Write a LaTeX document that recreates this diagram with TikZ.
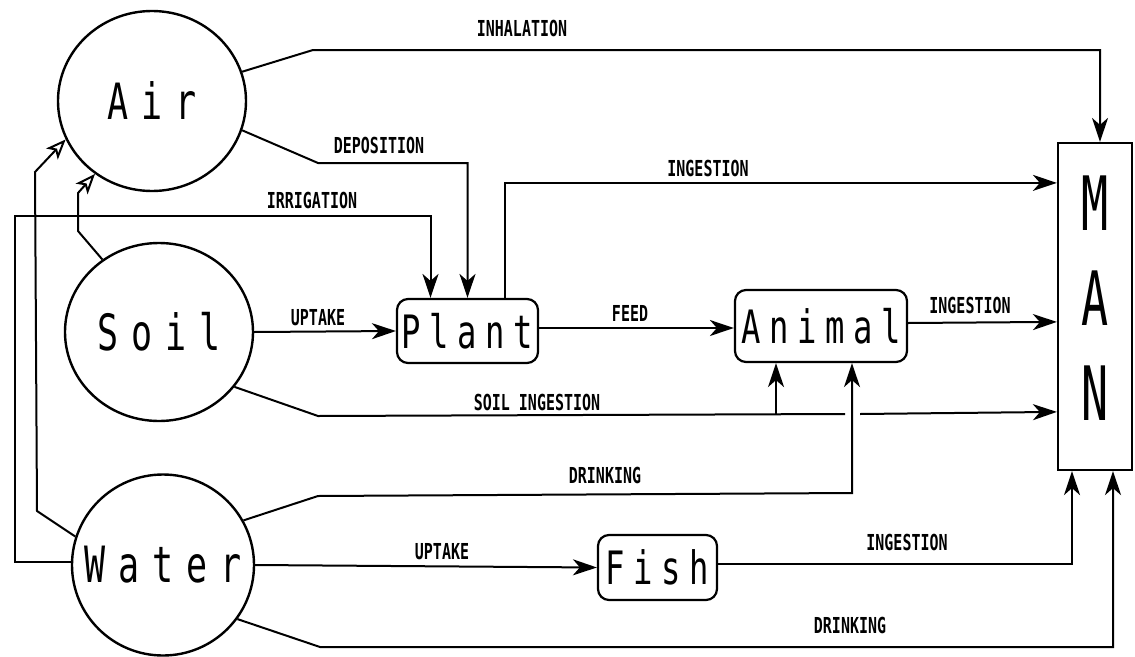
\documentclass[tikz,border=0pt]{standalone}
\usepackage{fontspec}
\usepackage{graphicx}
\usetikzlibrary{arrows.meta,shapes.geometric,calc}
\newfontfamily\monof{DejaVu Sans Mono}
\newfontfamily\circf[LetterSpace=37]{DejaVu Sans Mono}
\newfontfamily\boxf[LetterSpace=27]{DejaVu Sans Mono}
\newcommand\lbl[1]{\scalebox{0.68}[1]{\monof\bfseries\fontsize{22}{22}\selectfont #1}}
\newcommand\ctxt[1]{\scalebox{0.7}[1]{\circf\fontsize{50}{50}\selectfont #1}}
\newcommand\btxt[1]{\scalebox{0.7}[1]{\boxf\fontsize{46}{46}\selectfont #1}}
\begin{document}
\begin{tikzpicture}[x=1pt,y=-1pt,
  ln/.style={line width=2pt, line join=miter},
  arr/.style={ln,-{Stealth[length=24pt,width=16pt,inset=7pt]}},
  oarr/.style={ln,-{Stealth[open,length=20pt,width=16pt,inset=5pt]}},
  circ/.style={draw, ellipse, line width=2.4pt, inner sep=0pt},
  bigtxt/.style={inner sep=0pt},
  rbox/.style={draw, rectangle, rounded corners=11pt, line width=2.2pt, inner sep=0pt},
  manbox/.style={draw, rectangle, line width=2.2pt, inner sep=0pt},
  lab/.style={inner sep=0pt}]
\useasboundingbox[fill=white] (0,0) rectangle (1135,656);

% main nodes
\node[circ, minimum width=188pt, minimum height=180pt, label={[bigtxt]center:\ctxt{Air}}] (air) at (152,101) {};
\node[circ, minimum width=188pt, minimum height=178pt, label={[bigtxt]center:\ctxt{Soil}}] (soil) at (159,332) {};
\node[circ, minimum width=182pt, minimum height=181pt, label={[bigtxt]center:\ctxt{Water}}] (water) at (163,565) {};
\node[rbox, minimum width=141pt, minimum height=64pt] (plant) at (467.5,331) {\btxt{Plant}};
\node[rbox, minimum width=172pt, minimum height=72pt] (animal) at (821,326) {\btxt{Animal}};
\node[rbox, minimum width=119pt, minimum height=65pt] (fish) at (657.5,567.5) {\btxt{Fish}};
\node[manbox, minimum width=74pt, minimum height=327pt] (man) at (1095,306.5)
  {\scalebox{0.6}[1]{\monof\fontsize{75}{95}\selectfont\begin{tabular}{@{}c@{}}M\\A\\N\end{tabular}}};

% helper coordinates
\coordinate (gapL) at (845,414);
\coordinate (gapR) at (860,414);
\coordinate (sj) at (776,414);
\coordinate (dk) at (852,493);

% connectors
\draw[arr] (air.18) -- (313,50) -| ([xshift=5pt]man.north);
\draw[arr] (air.-18) -- (318,163) -| (plant.north);
\draw[arr] (water.178) -| (15,216) -| ([xshift=-37pt]plant.north);
\draw[oarr] (water.162) -- (37,511) -- (35,172) -- (air.204);
\draw[oarr] (soil.128) -- (78,231) -- (78,193) -- (air.232);
\draw[arr] (soil.east) -- (plant.west);
\draw[arr] ([xshift=37pt]plant.north) |- ([yshift=-41pt]man.north west);
\draw[arr] ([yshift=3pt]plant.east) -- ([yshift=-2pt]animal.west);
\draw[arr] ([yshift=3pt]animal.east) -- ([yshift=-180pt]man.north west);
\draw[ln] (soil.-36) -- (318,416) -- (gapL);
\draw[arr] (gapR) -- ([yshift=-270pt]man.north west);
\draw[arr] (sj) -- (sj |- animal.south);
\draw[arr] (water.29) -- (318,496) -- (dk) -- (dk |- animal.south);
\draw[arr] (water.east) -- (fish.west);
\draw[arr] ([yshift=4pt]fish.east) -| ([xshift=-23pt]man.south);
\draw[arr] (water.-36) -- (320,647) -| ([xshift=18pt]man.south);

% labels
\node[lab] (l1) at (522,28) {\lbl{INHALATION}};
\node[lab] (l2) at (379,145) {\lbl{DEPOSITION}};
\node[lab] (l3) at (312,200) {\lbl{IRRIGATION}};
\node[lab] (l4) at (708,168) {\lbl{INGESTION}};
\node[lab] (l5) at (318,318) {\lbl{UPTAKE}};
\node[lab] (l6) at (630,313) {\lbl{FEED}};
\node[lab] (l7) at (970,305) {\lbl{INGESTION}};
\node[lab] (l8) at (537,402) {\lbl{SOIL INGESTION}};
\node[lab] (l9) at (605,475) {\lbl{DRINKING}};
\node[lab] (l10) at (442,552) {\lbl{UPTAKE}};
\node[lab] (l11) at (907,542) {\lbl{INGESTION}};
\node[lab] (l12) at (850,625) {\lbl{DRINKING}};
\end{tikzpicture}
\end{document}
